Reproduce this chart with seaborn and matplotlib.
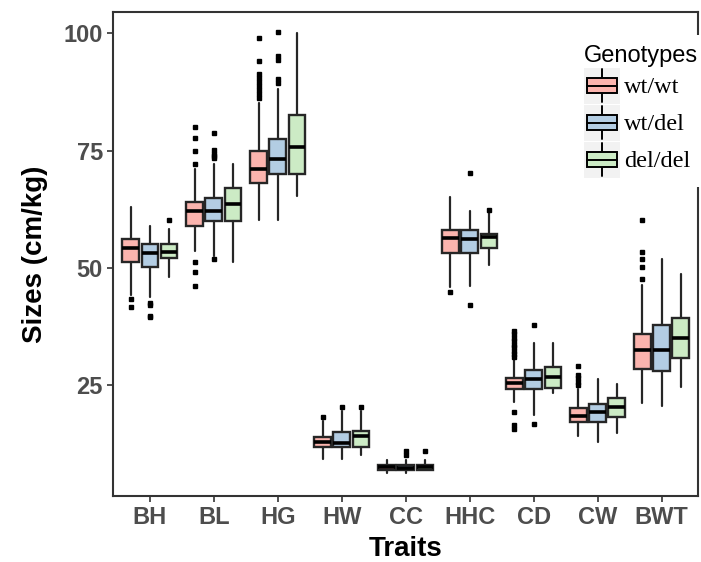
import matplotlib
matplotlib.use("Agg")
import matplotlib.pyplot as plt
import seaborn as sns
from matplotlib.patches import Patch, Rectangle
from matplotlib.lines import Line2D
from matplotlib.legend_handler import HandlerBase

traits = ["BH", "BL", "HG", "HW", "CC", "HHC", "CD", "CW", "BWT"]
genotypes = ["wt/wt", "wt/del", "del/del"]

# box stats: lower whisker, q1, median, q3, upper whisker
wtwt_lo = [44.2, 53.6, 60.2, 9.15, 6.2, 45.8, 21.4, 14.0, 21.2]
wtwt_q1 = [51.2, 59.0, 68.0, 11.8, 6.9, 53.1, 24.1, 17.0, 28.4]
wtwt_med = [54.3, 62.2, 71.1, 12.9, 7.5, 56.3, 25.4, 18.4, 32.5]
wtwt_q3 = [56.1, 64.0, 74.8, 13.8, 7.9, 58.1, 26.4, 20.0, 35.9]
wtwt_hi = [63.0, 71.0, 85.2, 17.2, 9.0, 65.0, 30.3, 24.1, 46.3]
wtwt_out = [[43.3, 41.6],
            [80.0, 77.7, 75.0, 72.1, 51.3, 49.0, 46.0],
            [99.1, 94.2, 91.3, 90.5, 89.6, 88.8, 87.9, 87.1, 86.2],
            [18.2],
            [],
            [44.8],
            [36.4, 35.8, 35.0, 34.3, 33.6, 33.0, 32.3, 31.6, 31.0, 19.3, 16.4, 15.6],
            [29.1, 27.1, 26.4, 25.7, 25.0],
            [60.2, 53.3, 51.9, 50.2, 47.6]]

wtdel_lo = [43.8, 52.4, 60.2, 9.15, 6.2, 46.1, 18.6, 12.9, 20.4]
wtdel_q1 = [50.1, 60.0, 69.9, 11.8, 6.9, 53.1, 24.1, 17.0, 28.0]
wtdel_med = [53.2, 62.2, 73.1, 12.7, 7.3, 56.1, 26.2, 19.3, 32.5]
wtdel_q3 = [55.0, 64.9, 77.5, 15.0, 7.9, 58.1, 28.1, 21.0, 37.8]
wtdel_hi = [59.0, 72.1, 88.1, 19.5, 9.0, 62.2, 34.0, 26.2, 51.9]
wtdel_out = [[42.4, 42.0, 39.8, 39.4],
             [78.7, 75.1, 74.3, 73.8, 73.3, 51.8],
             [100.2, 95.2, 94.3, 90.3, 89.4],
             [20.2],
             [10.9, 10.1],
             [70.1, 42.1],
             [37.8, 16.6],
             [],
             []]

deldel_lo = [48.1, 51.3, 65.2, 10.1, 6.8, 50.6, 23.2, 14.7, 24.6]
deldel_q1 = [52.0, 60.0, 69.9, 11.8, 6.9, 54.2, 24.4, 18.1, 30.7]
deldel_med = [53.3, 63.5, 75.8, 14.0, 7.4, 56.5, 26.6, 20.3, 35.1]
deldel_q3 = [55.0, 66.9, 82.5, 15.2, 7.9, 57.1, 28.9, 22.2, 39.2]
deldel_hi = [58.2, 72.1, 100.1, 19.4, 9.0, 61.6, 34.0, 25.2, 48.6]
deldel_out = [[60.2], [], [], [20.2], [11.0], [62.3], [], [], []]

groups = [
    (wtwt_lo, wtwt_q1, wtwt_med, wtwt_q3, wtwt_hi, wtwt_out),
    (wtdel_lo, wtdel_q1, wtdel_med, wtdel_q3, wtdel_hi, wtdel_out),
    (deldel_lo, deldel_q1, deldel_med, deldel_q3, deldel_hi, deldel_out),
]

sns.set_style("white")
plt.rcParams["font.family"] = ["Liberation Sans", "DejaVu Sans"]
plt.rcParams["text.color"] = "black"
plt.rcParams["axes.labelcolor"] = "black"
colors = sns.color_palette("Pastel1", 3)
edge = "#262626"


class BoxKey(HandlerBase):
    # legend key drawn like a little boxplot on a grey tile
    def create_artists(self, legend, orig_handle, xdescent, ydescent,
                       width, height, fontsize, trans):
        x = -xdescent
        y = -ydescent
        bg = Rectangle((x, y), width, height, facecolor="#F2F2F2",
                       edgecolor="none", transform=trans)
        bw = width * 0.82
        bh = height * 0.40
        x0 = x + (width - bw) / 2
        y0 = y + (height - bh) / 2
        xm = x + width / 2
        w1 = Line2D([xm, xm], [y + 1, y0], color="black", lw=1.4, transform=trans)
        w2 = Line2D([xm, xm], [y0 + bh, y + height - 1], color="black", lw=1.4,
                    transform=trans)
        box = Rectangle((x0, y0), bw, bh, facecolor=orig_handle.get_facecolor(),
                        edgecolor="black", lw=1.4, transform=trans)
        med = Line2D([x0, x0 + bw], [y0 + bh / 2] * 2, color="black", lw=1.4,
                     transform=trans)
        return [bg, w1, w2, box, med]


fig = plt.figure(figsize=(7.01, 5.62), dpi=100)
ax = fig.add_axes([0.1608, 0.1174, 0.835, 0.8617])

offsets = [-0.3, 0.0, 0.3]
for g, (lo, q1, med, q3, hi, out) in enumerate(groups):
    stats = []
    for i in range(len(traits)):
        stats.append(dict(med=med[i], q1=q1[i], q3=q3[i], whislo=lo[i],
                          whishi=hi[i], fliers=out[i]))
    pos = [i + offsets[g] for i in range(len(traits))]
    ax.bxp(stats, positions=pos, widths=0.26, patch_artist=True, showcaps=False,
           boxprops=dict(facecolor=colors[g], edgecolor=edge, linewidth=1.7),
           medianprops=dict(color="black", linewidth=2.6),
           whiskerprops=dict(color=edge, linewidth=1.6),
           flierprops=dict(marker="s", markersize=2.2, markerfacecolor="black",
                           markeredgecolor="black", linestyle="none"),
           manage_ticks=False)

ax.set_xlim(-0.58, 8.57)
ax.set_ylim(1.3, 104.6)
ax.set_xticks(range(len(traits)))
ax.set_xticklabels(traits)
ax.set_yticks([25, 50, 75, 100])
ax.tick_params(axis="both", which="both", direction="out", length=4, width=1.2,
               color="#333333", labelsize=17, labelcolor="#4D4D4D", pad=3,
               bottom=True, left=True)
for lab in ax.get_xticklabels() + ax.get_yticklabels():
    lab.set_fontweight("bold")
for sp in ax.spines.values():
    sp.set_visible(True)
    sp.set_color("#333333")
    sp.set_linewidth(1.5)

ax.set_xlabel("Traits", fontsize=20, fontweight="bold", labelpad=5, color="black")
ax.set_ylabel("Sizes (cm/kg)", fontsize=20, fontweight="bold", labelpad=11,
              color="black")

handles = [Patch(facecolor=colors[g], label=genotypes[g]) for g in range(3)]
leg = ax.legend(handles=handles, labels=genotypes, loc="upper left",
                bbox_to_anchor=(574 / 701, 1 - 35 / 562),
                bbox_transform=fig.transFigure,
                handler_map={Patch: BoxKey()},
                prop={"family": ["Liberation Serif", "DejaVu Serif"], "size": 17.5},
                title="Genotypes",
                title_fontproperties={"family": ["Liberation Sans", "DejaVu Sans"], "size": 17},
                frameon=True, fancybox=False, framealpha=1, facecolor="white",
                edgecolor="none", borderpad=0.4, handlelength=1.5,
                handleheight=1.9, handletextpad=0.15, labelspacing=0.04,
                borderaxespad=0)
leg._legend_box.align = "left"
for t in leg.get_texts():
    t.set_color("black")
leg.get_title().set_color("black")

fig.savefig("out.png", dpi=100)
